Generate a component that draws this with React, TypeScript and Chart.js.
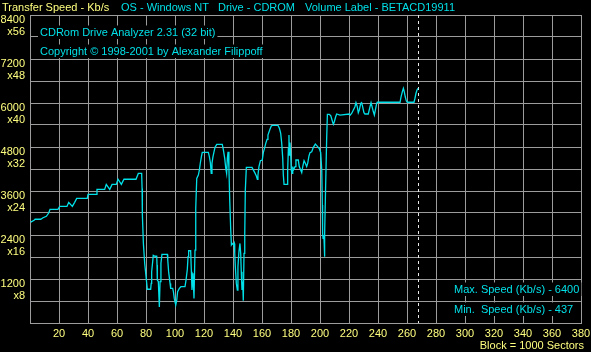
import { useEffect, useRef } from "react";
import { Chart, registerables } from "chart.js";

Chart.register(...registerables);

// Block positions (x 1000 sectors) and transfer speeds (Kb/s)
const blocks = [
  0.5, 2.8, 3.5, 7.4, 9, 11.3, 12.9, 13.8, 19.3, 20.5,
  25.5, 26.7, 29.2, 30.8, 32.2, 39.5, 40, 45.7, 46.2, 51.5,
  52.6, 55, 56.6, 59.5, 60.7, 63, 64.8, 73.1, 74.7, 77,
  77.3, 77.5, 78.2, 79.1, 79.8, 80.5, 80.9, 83.2, 83.6, 83.9,
  84.6, 85, 86.2, 87.4, 87.6, 87.8, 88.5, 89.2, 89.7, 90.3,
  91, 94.7, 95, 95.6, 96.6, 97, 98.4, 98.9, 99.5, 100.5,
  101.2, 101.8, 103, 104.1, 106.9, 107.6, 108.5, 109, 109.4, 110.8,
  111.3, 111.7, 112.4, 113.1, 113.8, 114.3, 115, 116.1, 116.8, 117.5,
  118.2, 118.8, 123, 123.7, 124.4, 125, 125.5, 126.2, 126.9, 127.6,
  128.8, 132.6, 133.3, 134.3, 135, 135.6, 136.1, 136.6, 137.2, 137.7,
  138.4, 138.9, 139.5, 140.5, 140.9, 141.2, 141.6, 142.3, 143, 143.4,
  144.1, 144.8, 145.3, 145.7, 146.2, 146.7, 147.1, 147.6, 148.1, 148.5,
  149.2, 153.1, 153.8, 155, 156.1, 156.8, 157.2, 157.9, 158.9, 160.2,
  160.9, 161.9, 162.6, 163.5, 164.1, 165.3, 166.4, 167.1, 171, 172,
  172.9, 173.6, 174.3, 174.7, 175.2, 177.5, 177.7, 178.2, 178.6, 178.8,
  179.3, 179.8, 180.2, 180.7, 181.2, 181.6, 182.8, 183.4, 185, 185.7,
  186.7, 187.4, 188.1, 189, 189.9, 190.8, 191.5, 192.4, 193.1, 194.3,
  195.4, 196.8, 198.1, 199.5, 200.5, 201.2, 201.6, 201.8, 202.1, 202.3,
  202.8, 203, 203.4, 203.9, 204.6, 205.1, 206.4, 207.4, 208.3, 209.2,
  209.9, 210.8, 211.5, 213.8, 220.2, 220.9, 221.9, 223, 224.1, 224.8,
  225.7, 226.4, 227.1, 228.1, 228.7, 229.4, 230.3, 231, 233.3, 234.5,
  235.2, 235.9, 236.8, 237.5, 238.2, 239.1, 239.5, 255.2, 255.9, 256.8,
  257.5, 258.1, 258.8, 259.5, 260.2, 264.8, 265.5, 266.2, 266.9, 267.6,
];

const speeds = [
  2750, 2800, 2830, 2830, 2870, 2910, 3000, 3100, 3100, 3180,
  3180, 3290, 3180, 3290, 3400, 3400, 3510, 3510, 3645, 3645,
  3780, 3645, 3780, 3780, 3920, 3780, 3920, 3920, 4080, 4080,
  3670, 2945, 2170, 1630, 1355, 1080, 920, 920, 1080, 1400,
  1670, 1845, 1820, 1820, 1580, 1170, 1130, 437, 1130, 1630,
  1870, 1870, 1720, 1400, 1080, 945, 945, 855, 670, 490,
  625, 855, 945, 990, 990, 1170, 1465, 1810, 1970, 1970,
  1400, 900, 1355, 670, 1990, 3130, 3945, 4035, 4170, 4370,
  4535, 4655, 4655, 4535, 4370, 4080, 4355, 4535, 4670, 4790,
  4870, 4870, 4735, 4490, 4220, 4080, 4490, 4670, 4220, 3400,
  2580, 2130, 2170, 2130, 2170, 1900, 1535, 1080, 900, 1535,
  1945, 2170, 1900, 1400, 900, 1130, 610, 1900, 2430, 3630,
  4245, 4245, 4190, 4100, 4010, 3920, 4030, 4265, 4425, 4445,
  4645, 4790, 4900, 5010, 5125, 5265, 5375, 5390, 5390, 5310,
  5170, 4900, 4490, 4035, 3780, 3780, 4170, 4765, 5125, 4580,
  4920, 4580, 4170, 4080, 4265, 4170, 4265, 4445, 4445, 4265,
  4170, 4100, 4265, 4425, 4355, 4265, 4355, 4555, 4645, 4670,
  4790, 4880, 4825, 4755, 4645, 4170, 3220, 2445, 2310, 2400,
  2265, 1810, 2445, 3765, 5035, 5690, 5690, 5655, 5535, 5420,
  5490, 5625, 5700, 5670, 5700, 5670, 5720, 5810, 5900, 6010,
  5900, 5735, 5810, 5990, 6010, 5900, 5735, 5700, 5700, 5900,
  6010, 5900, 5760, 5670, 5810, 5990, 6020, 6020, 6170, 6310,
  6400, 6310, 6170, 6060, 6020, 6020, 6130, 6265, 6355, 6400,
];

const xTickLabels = [20, 40, 60, 80, 100, 120, 140, 160, 180, 200, 220, 240, 260, 280, 300, 320, 340, 360, 380];
const yTickLabels = [1200, 2400, 3600, 4800, 6000, 7200, 8400];
const yMultiplierLabels = ["x8", "x16", "x24", "x32", "x40", "x48", "x56"];

const headerTexts = ["Transfer Speed - Kb/s", "OS - Windows NT", "Drive - CDROM", "Volume Label - BETACD19911"];
const titleText = "CDRom Drive Analyzer 2.31 (32 bit)";
const copyrightText = "Copyright \u00A9 1998-2001 by Alexander Filippoff";
const blockText = "Block = 1000 Sectors";

const YELLOW = "#ffff80";
const CYAN = "#00e0e8";
const GRID = "#9c9c9c";
const FONT = '11px "Liberation Sans", Arial, sans-serif';

const overlay = {
  id: "overlay",
  beforeDatasetsDraw(chart: any) {
    const ctx = chart.ctx as CanvasRenderingContext2D;
    const area = chart.chartArea;
    const xs = chart.scales.x;
    ctx.save();
    ctx.font = FONT;
    ctx.textAlign = "left";
    ctx.textBaseline = "alphabetic";
    const boxText = (t: string, x: number, baseline: number, color: string) => {
      const w = ctx.measureText(t).width;
      ctx.fillStyle = "#000";
      ctx.fillRect(x - 2, baseline - 10.5, w + 4, 13.5);
      ctx.fillStyle = color;
      ctx.fillText(t, x, baseline);
    };
    boxText(titleText, area.left + 10, area.top + 21, CYAN);
    boxText(copyrightText, area.left + 10, area.top + 40, CYAN);
    const maxS = Math.max(...speeds);
    const minS = Math.min(...speeds);
    boxText("Max. Speed (Kb/s) - " + maxS, area.right - 127, area.bottom - 30, CYAN);
    boxText("Min.  Speed (Kb/s) - " + minS, area.right - 127, area.bottom - 10, CYAN);

    // dashed marker at end of measured data
    const endX = Math.round(xs.getPixelForValue(blocks[blocks.length - 1])) + 0.5;
    ctx.strokeStyle = "#e8e8e8";
    ctx.lineWidth = 1;
    ctx.setLineDash([3, 3]);
    ctx.beginPath();
    ctx.moveTo(endX, area.top);
    ctx.lineTo(endX, area.bottom);
    ctx.stroke();
    ctx.restore();
  },
  afterDraw(chart: any) {
    const ctx = chart.ctx as CanvasRenderingContext2D;
    const area = chart.chartArea;
    const xs = chart.scales.x;
    const ys = chart.scales.y;
    ctx.save();
    ctx.font = FONT;
    ctx.textBaseline = "alphabetic";

    // header
    ctx.textAlign = "left";
    const headerX = [2, 121, 218, 305];
    headerTexts.forEach((t, i) => {
      ctx.fillStyle = i === 0 ? YELLOW : CYAN;
      ctx.fillText(t, headerX[i], 11);
    });

    // y labels
    ctx.textAlign = "right";
    ctx.fillStyle = YELLOW;
    yTickLabels.forEach((v, i) => {
      const y = Math.round(ys.getPixelForValue(v));
      ctx.fillText(String(v), area.left - 5, y + 8);
      ctx.fillText(yMultiplierLabels[i], area.left - 5, y + 20);
    });

    // x labels
    ctx.textAlign = "center";
    xTickLabels.forEach((v) => {
      const x = xs.getPixelForValue(v);
      ctx.fillText(String(v), x, area.bottom + 14);
    });

    ctx.textAlign = "right";
    ctx.fillText(blockText, 584, area.bottom + 26);
    ctx.restore();
  },
};

export default function App() {
  const ref = useRef<HTMLCanvasElement>(null);
  useEffect(() => {
    document.body.style.margin = "0";
    document.body.style.background = "#000";
    const chart = new Chart(ref.current as HTMLCanvasElement, {
      type: "line",
      data: {
        datasets: [
          {
            data: blocks.map((b, i) => ({ x: b, y: speeds[i] })),
            borderColor: CYAN,
            borderWidth: 1.3,
            pointRadius: 0,
            tension: 0,
            fill: false,
          },
        ],
      },
      options: {
        animation: false,
        responsive: false,
        maintainAspectRatio: false,
        devicePixelRatio: 1,
        events: [],
        layout: { padding: { left: 30, right: 10, top: 15, bottom: 29 } },
        plugins: { legend: { display: false }, tooltip: { enabled: false } },
        scales: {
          x: {
            type: "linear",
            min: 0,
            max: 380,
            ticks: { display: false, stepSize: 20, maxTicksLimit: 100 },
            grid: { color: GRID, lineWidth: 1, drawTicks: false },
            border: { display: true, color: GRID },
          },
          y: {
            type: "linear",
            min: 0,
            max: 8400,
            ticks: { display: false, stepSize: 600, maxTicksLimit: 100 },
            grid: { color: GRID, lineWidth: 1, drawTicks: false },
            border: { display: true, color: GRID },
          },
        },
      },
      plugins: [overlay],
    } as any);
    return () => chart.destroy();
  }, []);
  return (
    <div style={{ position: "fixed", left: 0, top: 0, width: 591, height: 352, background: "#000" }}>
      <canvas ref={ref} width={591} height={352} style={{ display: "block" }} />
    </div>
  );
}
